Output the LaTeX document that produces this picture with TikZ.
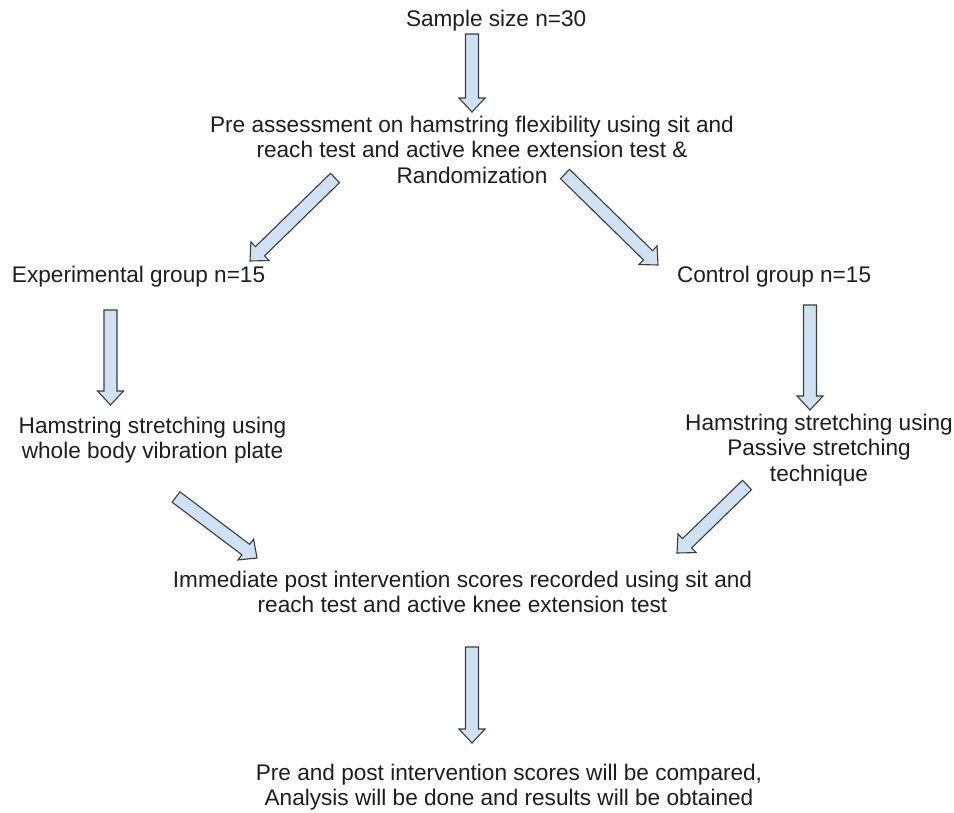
\documentclass[tikz,border=0pt]{standalone}
\usepackage{fontspec}
\setmainfont{Liberation Sans}
\usetikzlibrary{calc}
\definecolor{arrowfill}{RGB}{207,226,243}
\definecolor{arrowline}{RGB}{60,60,60}
\definecolor{txt}{RGB}{30,30,30}
\tikzset{
  lbl/.style={inner sep=0pt, outer sep=0pt, text=txt, font=\fontsize{22.6}{25.5}\selectfont, align=center},
  barrow/.style={fill=arrowfill, draw=arrowline, line width=1.1pt, line join=miter},
}
\newcommand\blockarrow[2]{%
  \coordinate (hb) at ($(#2)!14pt!(#1)$);
  \draw[barrow] ($(#1)!6.5pt!90:(#2)$) -- ($(hb)!6.5pt!90:(#2)$) -- ($(hb)!13pt!90:(#2)$) -- (#2)
    -- ($(hb)!13pt!-90:(#2)$) -- ($(hb)!6.5pt!-90:(#2)$) -- ($(#1)!6.5pt!-90:(#2)$) -- cycle;}
\begin{document}
\begin{tikzpicture}[x=1pt,y=-1pt]
\useasboundingbox (0,0) rectangle (954,812);
\fill[white] (0,0) rectangle (954,812);

\node[lbl, anchor=north west] (sample) at (406,10) {Sample size n=30};
\node[lbl, anchor=north] (pre) at (472,116) {Pre assessment on hamstring flexibility using sit and\\reach test and active knee extension test \&\\Randomization};
\node[lbl, anchor=north west] (exp) at (12,266) {Experimental group n=15};
\node[lbl, anchor=north west] (ctrl) at (677,266) {Control group n=15};
\node[lbl, anchor=north] (hl) at (152.5,417) {Hamstring stretching using\\whole body vibration plate};
\node[lbl, anchor=north] (hr) at (819,414) {Hamstring stretching using\\Passive stretching\\technique};
\node[lbl, anchor=north] (post) at (462.5,571) {Immediate post intervention scores recorded using sit and\\reach test and active knee extension test};
\node[lbl, anchor=north] (final) at (509,764) {Pre and post intervention scores will be compared,\\Analysis will be done and results will be obtained};

\coordinate (a1s) at (472,34);   \coordinate (a1e) at (472,112);
\coordinate (a2s) at (335,178);  \coordinate (a2e) at (250,261);
\coordinate (a3s) at (565,174);  \coordinate (a3e) at (658,265);
\coordinate (a4s) at (110.5,310);\coordinate (a4e) at (110.5,405);
\coordinate (a5s) at (810,305);  \coordinate (a5e) at (810,410);
\coordinate (a6s) at (176,497);  \coordinate (a6e) at (257,558);
\coordinate (a7s) at (747,485);  \coordinate (a7e) at (677,553);
\coordinate (a8s) at (472,647);  \coordinate (a8e) at (472,743);

\blockarrow{a1s}{a1e}
\blockarrow{a2s}{a2e}
\blockarrow{a3s}{a3e}
\blockarrow{a4s}{a4e}
\blockarrow{a5s}{a5e}
\blockarrow{a6s}{a6e}
\blockarrow{a7s}{a7e}
\blockarrow{a8s}{a8e}
\end{tikzpicture}
\end{document}
